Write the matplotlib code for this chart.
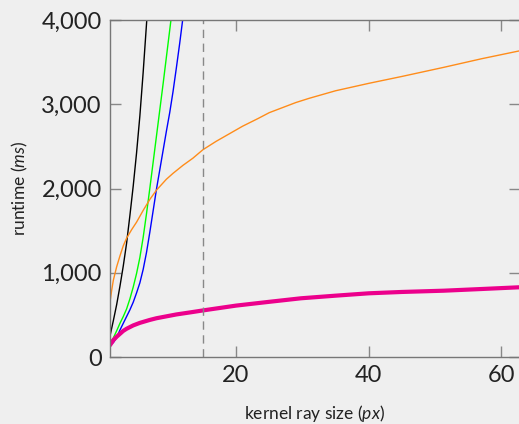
import matplotlib.pyplot as plt

# runtime curves (kernel ray size px -> runtime ms)
black_x = [1, 1.5, 2, 2.5, 3, 3.5, 4, 4.5, 5, 5.5, 6, 6.5, 7]
black_y = [250, 430, 620, 840, 1080, 1350, 1680, 2030, 2420, 2860, 3380, 3950, 4550]

green_x = [1, 1.5, 2, 2.5, 3, 3.5, 4, 4.5, 5, 5.5, 6, 6.5, 7, 7.5, 8, 8.5, 9, 9.5, 10, 10.5]
green_y = [160, 225, 310, 400, 480, 570, 690, 830, 990, 1180, 1420, 1700, 2000, 2310,
           2620, 2930, 3240, 3560, 3880, 4200]

blue_x = [1, 1.5, 2, 2.5, 3, 3.5, 4, 4.5, 5, 5.5, 6, 6.5, 7, 7.5, 8, 8.5, 9, 9.5, 10,
          10.5, 11, 11.5, 12, 12.5]
blue_y = [150, 170, 230, 320, 400, 480, 560, 650, 760, 880, 1040, 1240, 1480, 1735, 1990,
          2220, 2450, 2680, 2900, 3150, 3430, 3720, 4030, 4350]

orange_x = [1, 1.25, 1.5, 2, 2.5, 3, 3.5, 4.25, 5, 6, 7, 8, 9.5, 10.5, 12, 13.5, 15, 17,
            19, 21, 23.3, 25, 27, 29, 31, 35, 40, 45, 51.3, 57, 62.8]
orange_y = [650, 790, 910, 1070, 1200, 1320, 1410, 1510, 1600, 1740, 1870, 1980, 2110,
            2180, 2275, 2360, 2460, 2560, 2650, 2740, 2830, 2900, 2960, 3020, 3070, 3160,
            3248, 3330, 3438, 3540, 3635]

magenta_x = [1, 1.5, 2, 2.5, 3, 3.5, 4.5, 5.5, 7, 8, 11, 13.3, 15.2, 20, 25, 29.8, 35,
             40, 45, 51.3, 57, 62.8]
magenta_y = [140, 200, 240, 275, 310, 335, 375, 405, 440, 460, 505, 532, 555, 610, 655,
             697, 728, 756, 772, 787, 807, 828]

marker_x = 15
xticks = [20, 40, 60]
yticks = [0, 1000, 2000, 3000, 4000]

bg = '#efefef'
plt.rcParams['font.family'] = ['Lato', 'DejaVu Sans']
plt.rcParams['mathtext.fontset'] = 'custom'
plt.rcParams['mathtext.it'] = 'Lato:italic'

fig = plt.figure(figsize=(5.19, 4.24), dpi=100, facecolor=bg)
ax = fig.add_axes([110 / 519, 67 / 424, 410 / 519, 337 / 424])
ax.set_facecolor(bg)

ax.plot(black_x, black_y, color='black', lw=1)
ax.plot(green_x, green_y, color='#00ff00', lw=1)
ax.plot(blue_x, blue_y, color='#0000ff', lw=1)
ax.plot(orange_x, orange_y, color='#ff8c1a', lw=1)
ax.plot(magenta_x, magenta_y, color='#ec008c', lw=3, solid_capstyle='round')
ax.axvline(marker_x, color='#888888', lw=1, dashes=(6, 4))

ax.set_xlim(1, 62.8)
ax.set_ylim(0, 4000)
ax.set_xticks(xticks)
ax.set_yticks(yticks)
ax.set_yticklabels(['{:,}'.format(v) for v in yticks])
ax.tick_params(direction='in', length=8, width=1, color='#888888', labelcolor='#222222',
               labelsize=17, top=True, right=True, pad=6)
for s in ax.spines.values():
    s.set_color('#777777')
    s.set_linewidth(1)

ax.set_xlabel('kernel ray size ($px$)', fontsize=12.5, color='#222222', labelpad=12)
ax.set_ylabel('runtime ($ms$)', fontsize=12.5, color='#222222', labelpad=8)

fig.savefig('out.png', dpi=100, facecolor=bg)
